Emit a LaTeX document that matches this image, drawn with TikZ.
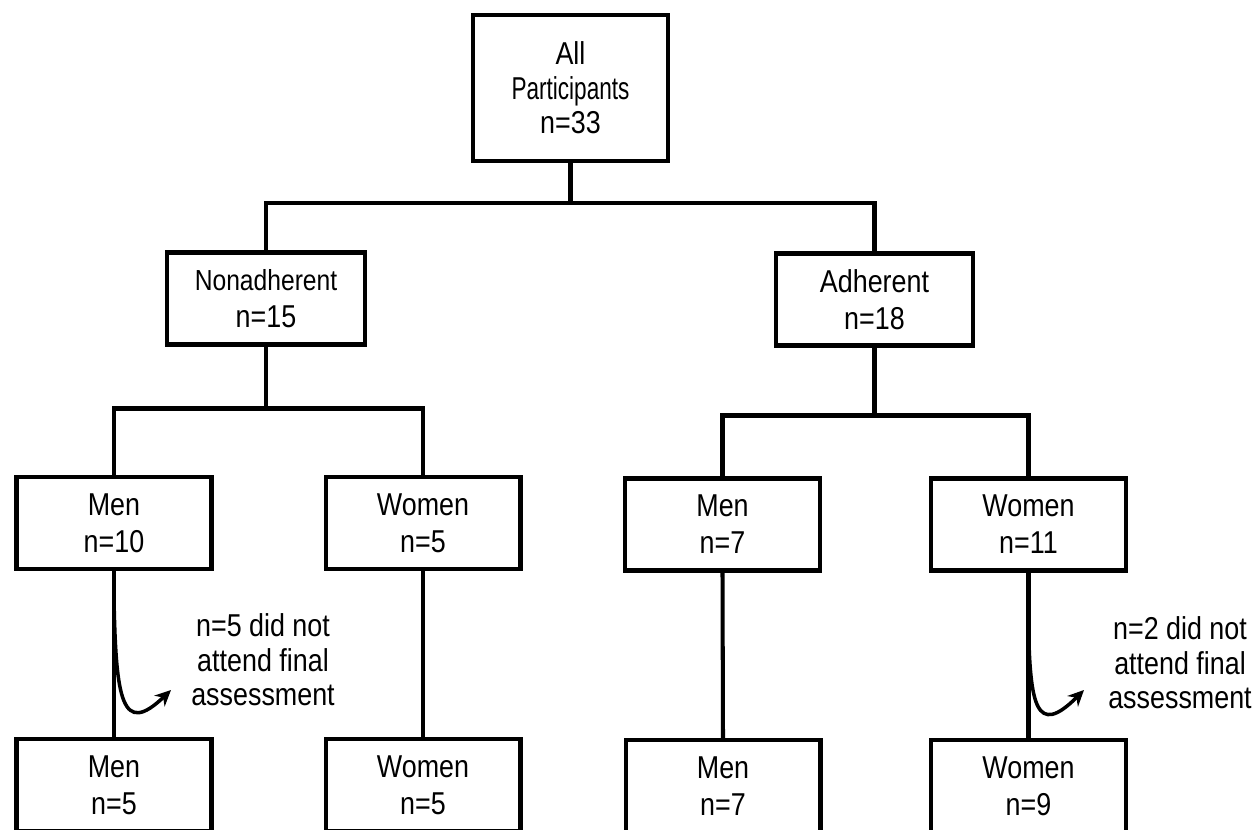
\documentclass[tikz,border=0pt]{standalone}
\usepackage{fontspec}
\setmainfont[FakeStretch=0.85]{Liberation Sans}
\usepackage{graphicx}
\usepackage{tikz}
\usetikzlibrary{arrows,arrows.meta,shapes,shadows}
\usetikzlibrary{positioning}
\tikzstyle{group} = [rectangle, draw=black, fill=white, line width=2.3pt, inner sep=0pt, minimum width=3.9cm, minimum height=1.84cm, align=center, font=\fontsize{18}{21}\selectfont, drop shadow={shadow xshift=0.035cm, shadow yshift=-0.035cm, opacity=1, fill=black}]
\tikzstyle{link} = [line width=2.3pt]
\tikzstyle{note} = [align=center, font=\fontsize{18}{19.6}\selectfont]
\tikzstyle{arrow} = [line width=2pt,-{Stealth[length=0.32cm,width=0.3cm]}]

\begin{document}
\begin{tikzpicture}[x=0.02cm,y=-0.02cm]
	\useasboundingbox (0,0) rectangle (1255,830);
	% boxes
	\node [group, minimum height=2.92cm, font=\fontsize{18}{19.6}\selectfont] (all) at (570.5, 88) {All\\\scalebox{0.84}[1]{Participants}\\n=33};
	\node [group, minimum width=3.96cm] (nonadh) at (266, 298.5) {{\fontsize{16.5}{21}\selectfont Nonadherent}\\n=15};
	\node [group, minimum width=3.94cm] (adh) at (874.5, 299.5) {Adherent\\n=18};
	\node [group] (menA) at (114, 523) {Men\\n=10};
	\node [group] (womA) at (423, 523) {Women\\n=5};
	\node [group] (menB) at (722.5, 524.5) {Men\\n=7};
	\node [group] (womB) at (1028.5, 524.5) {Women\\n=11};
	\node [group] (menAf) at (114, 785) {Men\\n=5};
	\node [group] (womAf) at (423, 785) {Women\\n=5};
	\node [group] (menBf) at (723, 786) {Men\\n=7};
	\node [group] (womBf) at (1028.5, 786) {Women\\n=9};
	% connectors
	\draw [link] (all.south) -- ++(0,40) -| (nonadh.north);
	\draw [link] (all.south) -- ++(0,40) -| (adh.north);
	\draw [link] (nonadh.south) -- ++(0,62) -| (menA.north);
	\draw [link] (nonadh.south) -- ++(0,62) -| (womA.north);
	\draw [link] (adh.south) -- ++(0,68) -| (menB.north);
	\draw [link] (adh.south) -- ++(0,68) -| (womB.north);
	\draw [link] (menA.south) -- (menAf.north);
	\draw [link] (womA.south) -- (womAf.north);
	\draw [link] (menB.south) -- (menBf.north);
	\draw [link] (womB.south) -- (womBf.north);
	% dropouts
	\node [note] (lossA) at (263, 660) {n=5 did not\\attend final\\assessment};
	\node [note] (lossB) at (1180, 663) {n=2 did not\\attend final\\assessment};
	\coordinate (dropA) at (114, 600);
	\coordinate (tipA) at (171, 690);
	\coordinate (dropB) at (1028.5, 625);
	\coordinate (tipB) at (1084, 690);
	\draw [arrow] (dropA) .. controls (116, 700) and (122, 737) .. (tipA);
	\draw [arrow] (dropB) .. controls (1030, 705) and (1036, 738) .. (tipB);
\end{tikzpicture}
\end{document}
